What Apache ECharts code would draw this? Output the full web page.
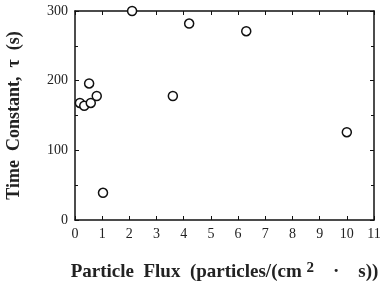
<!DOCTYPE html>
<html>
<head>
<meta charset="utf-8">
<script src="https://cdn.jsdelivr.net/npm/echarts@6/dist/echarts.min.js"></script>
<style>
  html, body { margin: 0; padding: 0; background: #fff; }
  #chart { width: 381px; height: 283px; }
</style>
</head>
<body>
<div id="chart"></div>
<script>
// particle flux (x) and time constant (y)
var fluxValues = [0.18, 0.34, 0.58, 0.52, 0.8, 1.03, 2.1, 3.6, 4.2, 6.3, 10.0];
var tauValues = [168, 164, 168, 196, 178, 39, 300, 178, 282, 271, 126];
var xTicks = ['0', '1', '2', '3', '4', '5', '6', '7', '8', '9', '10', '11'];
var yTicks = ['0', '100', '200', '300'];

var points = fluxValues.map(function (f, i) { return [f, tauValues[i]]; });

var myChart = echarts.init(document.getElementById('chart'));
var font = '"Liberation Serif", "DejaVu Serif", serif';
var axisLine = { onZero: false, lineStyle: { color: '#111', width: 1.5 } };
var tick = { inside: true, length: 4, lineStyle: { color: '#111' } };
var minor = { show: true, splitNumber: 2, length: 3, lineStyle: { color: '#111' } };

var option = {
    backgroundColor: '#fff',
    animation: false,
    grid: { left: 75, right: 7, top: 11, bottom: 63, outerBoundsMode: 'none', containLabel: false },
    xAxis: [
        {
            type: 'value', min: 0, max: 11, interval: 1,
            axisLine: axisLine,
            axisTick: tick,
            splitLine: { show: false },
            axisLabel: {
                fontFamily: font, fontSize: 14, color: '#222', margin: 7,
                formatter: function (v) { return xTicks[v]; }
            },
            name: 'Particle  Flux  (particles/(cm {sup|2}    ·    s))',
            nameLocation: 'middle', nameGap: 41,
            nameTextStyle: {
                fontFamily: font, fontSize: 19, fontWeight: 'bold', color: '#222',
                rich: { sup: { fontFamily: font, fontSize: 15, fontWeight: 'bold', color: '#222', verticalAlign: 'top', padding: [0, 0, 8, 0] } }
            }
        },
        {
            type: 'value', min: 0, max: 11, interval: 1, position: 'top',
            axisLine: axisLine,
            axisTick: tick,
            axisLabel: { show: false }, splitLine: { show: false }
        }
    ],
    yAxis: [
        {
            type: 'value', min: 0, max: 300, interval: 100,
            axisLine: axisLine,
            axisTick: tick,
            minorTick: minor,
            splitLine: { show: false },
            axisLabel: {
                fontFamily: font, fontSize: 14, color: '#222', margin: 7,
                formatter: function (v) { return yTicks[v / 100]; }
            },
            name: 'Time  Constant,  τ  (s)',
            nameLocation: 'middle', nameGap: 52,
            nameTextStyle: { fontFamily: font, fontSize: 18, fontWeight: 'bold', color: '#222' }
        },
        {
            type: 'value', min: 0, max: 300, interval: 100, position: 'right',
            axisLine: axisLine,
            axisTick: tick,
            minorTick: minor,
            axisLabel: { show: false }, splitLine: { show: false }
        }
    ],
    series: [
        {
            type: 'scatter',
            data: points,
            symbol: 'circle',
            symbolSize: 9,
            itemStyle: { color: '#fff', borderColor: '#111', borderWidth: 1.5, opacity: 1 }
        }
    ]
};
myChart.setOption(option);
</script>
</body>
</html>
